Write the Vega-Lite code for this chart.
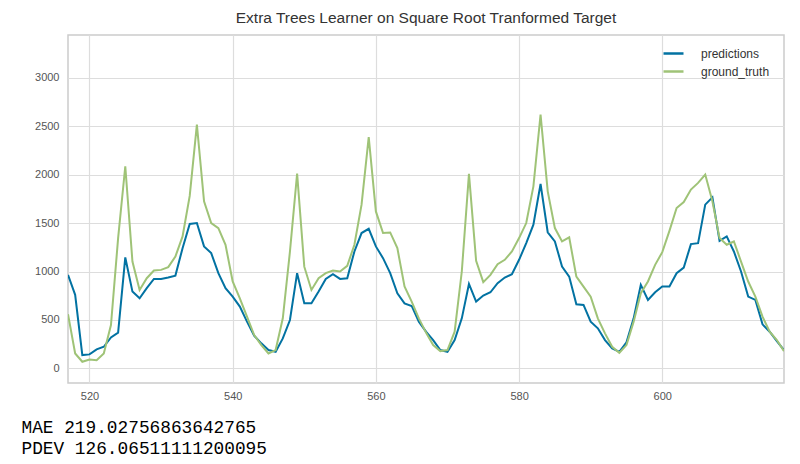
{
  "$schema": "https://vega.github.io/schema/vega-lite/v6.json",
  "autosize": {"type": "none"},
  "padding": {"left": 68, "top": 35, "right": 16, "bottom": 81},
  "width": 716,
  "height": 348,
  "background": "white",
  "title": {
    "text": "Extra Trees Learner on Square Root Tranformed Target",
    "anchor": "middle",
    "font": "Liberation Sans",
    "fontSize": 15.5,
    "fontWeight": "normal",
    "color": "#333333",
    "offset": 9
  },
  "data": {
    "values": [
      {"idx": 517, "predictions": 965, "ground_truth": 560},
      {"idx": 518, "predictions": 760, "ground_truth": 155},
      {"idx": 519, "predictions": 138, "ground_truth": 69},
      {"idx": 520, "predictions": 145, "ground_truth": 93},
      {"idx": 521, "predictions": 197, "ground_truth": 86},
      {"idx": 522, "predictions": 224, "ground_truth": 155},
      {"idx": 523, "predictions": 320, "ground_truth": 448},
      {"idx": 524, "predictions": 369, "ground_truth": 1345},
      {"idx": 525, "predictions": 1145, "ground_truth": 2086},
      {"idx": 526, "predictions": 793, "ground_truth": 1103},
      {"idx": 527, "predictions": 724, "ground_truth": 810},
      {"idx": 528, "predictions": 828, "ground_truth": 931},
      {"idx": 529, "predictions": 924, "ground_truth": 1010},
      {"idx": 530, "predictions": 924, "ground_truth": 1017},
      {"idx": 531, "predictions": 938, "ground_truth": 1045},
      {"idx": 532, "predictions": 958, "ground_truth": 1155},
      {"idx": 533, "predictions": 1241, "ground_truth": 1362},
      {"idx": 534, "predictions": 1490, "ground_truth": 1780},
      {"idx": 535, "predictions": 1500, "ground_truth": 2515},
      {"idx": 536, "predictions": 1259, "ground_truth": 1724},
      {"idx": 537, "predictions": 1190, "ground_truth": 1500},
      {"idx": 538, "predictions": 983, "ground_truth": 1448},
      {"idx": 539, "predictions": 828, "ground_truth": 1276},
      {"idx": 540, "predictions": 741, "ground_truth": 897},
      {"idx": 541, "predictions": 638, "ground_truth": 724},
      {"idx": 542, "predictions": 483, "ground_truth": 534},
      {"idx": 543, "predictions": 338, "ground_truth": 345},
      {"idx": 544, "predictions": 259, "ground_truth": 241},
      {"idx": 545, "predictions": 190, "ground_truth": 155},
      {"idx": 546, "predictions": 172, "ground_truth": 190},
      {"idx": 547, "predictions": 310, "ground_truth": 517},
      {"idx": 548, "predictions": 500, "ground_truth": 1207},
      {"idx": 549, "predictions": 983, "ground_truth": 2010},
      {"idx": 550, "predictions": 672, "ground_truth": 1050},
      {"idx": 551, "predictions": 672, "ground_truth": 810},
      {"idx": 552, "predictions": 793, "ground_truth": 931},
      {"idx": 553, "predictions": 924, "ground_truth": 983},
      {"idx": 554, "predictions": 972, "ground_truth": 1010},
      {"idx": 555, "predictions": 924, "ground_truth": 1000},
      {"idx": 556, "predictions": 931, "ground_truth": 1059},
      {"idx": 557, "predictions": 1207, "ground_truth": 1276},
      {"idx": 558, "predictions": 1397, "ground_truth": 1690},
      {"idx": 559, "predictions": 1441, "ground_truth": 2386},
      {"idx": 560, "predictions": 1259, "ground_truth": 1620},
      {"idx": 561, "predictions": 1138, "ground_truth": 1397},
      {"idx": 562, "predictions": 983, "ground_truth": 1403},
      {"idx": 563, "predictions": 776, "ground_truth": 1241},
      {"idx": 564, "predictions": 672, "ground_truth": 845},
      {"idx": 565, "predictions": 645, "ground_truth": 690},
      {"idx": 566, "predictions": 483, "ground_truth": 517},
      {"idx": 567, "predictions": 380, "ground_truth": 370},
      {"idx": 568, "predictions": 293, "ground_truth": 241},
      {"idx": 569, "predictions": 190, "ground_truth": 179},
      {"idx": 570, "predictions": 172, "ground_truth": 190},
      {"idx": 571, "predictions": 293, "ground_truth": 379},
      {"idx": 572, "predictions": 517, "ground_truth": 1000},
      {"idx": 573, "predictions": 872, "ground_truth": 2007},
      {"idx": 574, "predictions": 690, "ground_truth": 1110},
      {"idx": 575, "predictions": 752, "ground_truth": 890},
      {"idx": 576, "predictions": 786, "ground_truth": 965},
      {"idx": 577, "predictions": 879, "ground_truth": 1076},
      {"idx": 578, "predictions": 938, "ground_truth": 1121},
      {"idx": 579, "predictions": 972, "ground_truth": 1207},
      {"idx": 580, "predictions": 1121, "ground_truth": 1345},
      {"idx": 581, "predictions": 1293, "ground_truth": 1500},
      {"idx": 582, "predictions": 1483, "ground_truth": 1879},
      {"idx": 583, "predictions": 1903, "ground_truth": 2620},
      {"idx": 584, "predictions": 1405, "ground_truth": 1827},
      {"idx": 585, "predictions": 1310, "ground_truth": 1448},
      {"idx": 586, "predictions": 1052, "ground_truth": 1310},
      {"idx": 587, "predictions": 948, "ground_truth": 1352},
      {"idx": 588, "predictions": 662, "ground_truth": 948},
      {"idx": 589, "predictions": 655, "ground_truth": 845},
      {"idx": 590, "predictions": 483, "ground_truth": 741},
      {"idx": 591, "predictions": 414, "ground_truth": 517},
      {"idx": 592, "predictions": 293, "ground_truth": 362},
      {"idx": 593, "predictions": 207, "ground_truth": 224},
      {"idx": 594, "predictions": 172, "ground_truth": 162},
      {"idx": 595, "predictions": 269, "ground_truth": 241},
      {"idx": 596, "predictions": 517, "ground_truth": 483},
      {"idx": 597, "predictions": 862, "ground_truth": 776},
      {"idx": 598, "predictions": 707, "ground_truth": 897},
      {"idx": 599, "predictions": 786, "ground_truth": 1069},
      {"idx": 600, "predictions": 845, "ground_truth": 1200},
      {"idx": 601, "predictions": 845, "ground_truth": 1420},
      {"idx": 602, "predictions": 983, "ground_truth": 1655},
      {"idx": 603, "predictions": 1041, "ground_truth": 1717},
      {"idx": 604, "predictions": 1283, "ground_truth": 1845},
      {"idx": 605, "predictions": 1293, "ground_truth": 1914},
      {"idx": 606, "predictions": 1690, "ground_truth": 2000},
      {"idx": 607, "predictions": 1765, "ground_truth": 1724},
      {"idx": 608, "predictions": 1317, "ground_truth": 1345},
      {"idx": 609, "predictions": 1362, "ground_truth": 1276},
      {"idx": 610, "predictions": 1207, "ground_truth": 1310},
      {"idx": 611, "predictions": 1000, "ground_truth": 1103},
      {"idx": 612, "predictions": 741, "ground_truth": 897},
      {"idx": 613, "predictions": 707, "ground_truth": 741},
      {"idx": 614, "predictions": 455, "ground_truth": 534},
      {"idx": 615, "predictions": 379, "ground_truth": 379},
      {"idx": 616, "predictions": 283, "ground_truth": 293},
      {"idx": 617, "predictions": 190, "ground_truth": 179}
    ]
  },
  "transform": [
    {"fold": ["predictions", "ground_truth"], "as": ["series", "value"]}
  ],
  "mark": {"type": "line", "strokeWidth": 2, "clip": true},
  "encoding": {
    "x": {
      "field": "idx",
      "type": "quantitative",
      "scale": {"domain": [517, 617], "nice": false, "zero": false},
      "axis": {
        "values": [520, 540, 560, 580, 600],
        "title": ["MAE 219.02756863642765", "PDEV 126.06511111200095"],
        "titleFont": "Liberation Mono",
        "titleFontSize": 17.8,
        "titleFontWeight": "normal",
        "titleColor": "#000000",
        "titleAnchor": "start",
        "titleAlign": "left",
        "titleBaseline": "alphabetic",
        "titleX": -47,
        "titleY": 49,
        "titleLineHeight": 21,
        "labelPadding": 7
      }
    },
    "y": {
      "field": "value",
      "type": "quantitative",
      "scale": {"domain": [-150, 3440], "nice": false, "zero": false},
      "axis": {
        "values": [0, 500, 1000, 1500, 2000, 2500, 3000],
        "format": "d",
        "title": null,
        "labelPadding": 9
      }
    },
    "color": {
      "field": "series",
      "type": "nominal",
      "scale": {
        "domain": ["predictions", "ground_truth"],
        "range": ["#0272a2", "#9fc377"]
      },
      "legend": {
        "title": null,
        "orient": "none",
        "legendX": 594,
        "legendY": 7,
        "symbolType": "stroke",
        "symbolSize": 400,
        "symbolStrokeWidth": 2.5,
        "labelFont": "Liberation Sans",
        "labelFontSize": 12,
        "labelColor": "#333333",
        "labelOffset": 16,
        "rowPadding": 0
      }
    }
  },
  "config": {
    "view": {"stroke": "#cccccc", "strokeWidth": 1.5},
    "axis": {
      "domain": false,
      "ticks": false,
      "grid": true,
      "gridColor": "#dddddd",
      "gridWidth": 1.2,
      "labelFont": "Liberation Sans",
      "labelFontSize": 11,
      "labelColor": "#555555"
    }
  }
}
